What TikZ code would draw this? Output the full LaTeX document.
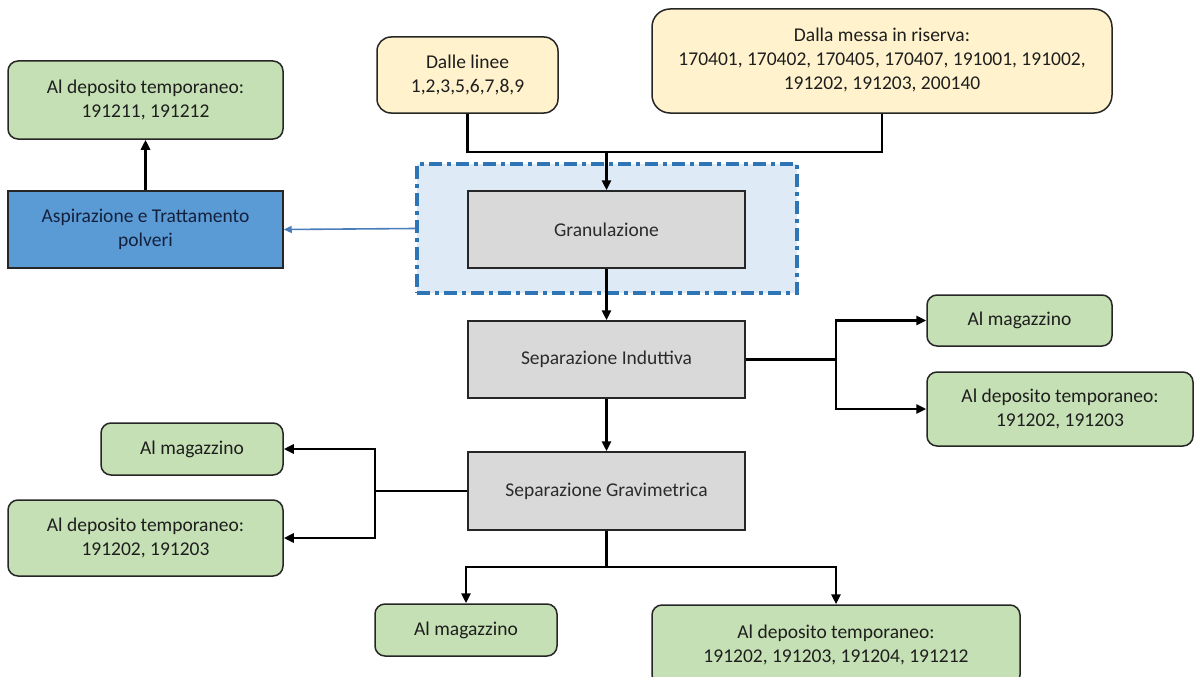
\documentclass[tikz,border=0pt]{standalone}
\usepackage{fontspec}
\setmainfont{Carlito}
\usetikzlibrary{arrows.meta}
\definecolor{gfill}{HTML}{C5E0B4}
\definecolor{yfill}{HTML}{FFF2CC}
\definecolor{pfill}{HTML}{D9D9D9}
\definecolor{bfill}{HTML}{5B9BD5}
\definecolor{dfill}{HTML}{DEEBF7}
\definecolor{dline}{HTML}{2E75B6}
\definecolor{barrow}{HTML}{4A7EBB}
\definecolor{boxline}{HTML}{262626}
\definecolor{txt}{HTML}{1E1E1E}
\definecolor{ptxt}{HTML}{2B2B2B}
\definecolor{btxt}{HTML}{14213D}
\begin{document}
\begin{tikzpicture}[x=1pt,y=-1pt,
  font=\fontsize{19.5}{24}\selectfont,
  basebox/.style={draw=boxline, line width=1.5pt, inner sep=0pt, align=center, text=txt},
  greenbox/.style={basebox, fill=gfill, rounded corners=10pt},
  yellowbox/.style={basebox, fill=yfill, rounded corners=14pt},
  procbox/.style={basebox, fill=pfill, draw=boxline, text=ptxt},
  bluebox/.style={basebox, fill=bfill, text=btxt},
  dashregion/.style={fill=dfill, draw=dline, line width=4.2pt, dash pattern=on 13pt off 5pt on 4pt off 5pt},
  conn/.style={draw=black, line width=2.5pt, line join=miter},
  arr/.style={conn, -{Triangle[length=10pt,width=9pt]}},
  bluearr/.style={draw=barrow, line width=1.6pt, -{Triangle[length=8pt,width=7pt]}}
]
\clip (0,0) rectangle (1195,677);
\fill[white] (0,0) rectangle (1195,677);

% dashed region
\node[dashregion, minimum width=380, minimum height=129, inner sep=0pt] (dreg) at (607,228.5) {};

% nodes
\node[greenbox, minimum width=275, minimum height=78] (tl) at (145.5,100) {Al deposito temporaneo:\\191211, 191212};
\node[bluebox, minimum width=275, minimum height=77] (blue) at (145.5,229.5) {Aspirazione e Trattamento\\polveri};
\node[yellowbox, minimum width=181, minimum height=76] (dalle) at (467.5,75) {Dalle linee\\1,2,3,5,6,7,8,9};
\node[yellowbox, minimum width=460, minimum height=104, rounded corners=18pt] (messa) at (882,61) {\raisebox{-3pt}{\begin{tabular}{@{}c@{}}Dalla messa in riserva:\\170401, 170402, 170405, 170407, 191001, 191002,\\191202, 191203, 200140\end{tabular}}};
\node[procbox, minimum width=277, minimum height=77] (gran) at (606.5,229.5) {Granulazione};
\node[procbox, minimum width=277, minimum height=77] (sepind) at (606.5,359.5) {Separazione Induttiva};
\node[procbox, minimum width=277, minimum height=78] (sepgrav) at (606.5,491) {Separazione Gravimetrica};
\node[greenbox, minimum width=185, minimum height=51] (rmag) at (1019.5,320.5) {Al magazzino};
\node[greenbox, minimum width=266, minimum height=74] (rdep) at (1060,409) {Al deposito temporaneo:\\191202, 191203};
\node[greenbox, minimum width=182, minimum height=52] (lmag) at (192,449) {Al magazzino};
\node[greenbox, minimum width=275, minimum height=76] (ldep) at (145.5,538) {Al deposito temporaneo:\\191202, 191203};
\node[greenbox, minimum width=182, minimum height=52] (bmag) at (466,630) {Al magazzino};
\node[greenbox, minimum width=368, minimum height=80] (bdep) at (836,645) {Al deposito temporaneo:\\191202, 191203, 191204, 191212};

% junction coordinates
\coordinate (jt) at (606.5,152);
\coordinate (jr) at (836,359.5);
\coordinate (jl) at (375,491);
\coordinate (jb) at (606.5,567);

% connectors
\draw[conn] (dalle.south) |- (messa.south |- jt) -- (messa.south);
\draw[arr] (jt) -- (gran.north);
\draw[arr] (gran.south) -- (sepind.north);
\draw[arr] (sepind.south) -- (sepgrav.north);
\draw[arr] (blue.north) -- (tl.south);
\draw[bluearr] (dreg.west) -- (blue.east);

\draw[conn] (sepind.east) -- (jr);
\draw[arr] (jr) |- (rmag.west);
\draw[arr] (jr) |- (rdep.west);

\draw[conn] (sepgrav.west) -- (jl);
\draw[arr] (jl) |- (lmag.east);
\draw[arr] (jl) |- (ldep.east);

\draw[conn] (sepgrav.south) -- (jb);
\draw[arr] (jb) -| (bmag.north);
\draw[arr] (jb) -| (bdep.north);
\end{tikzpicture}
\end{document}
